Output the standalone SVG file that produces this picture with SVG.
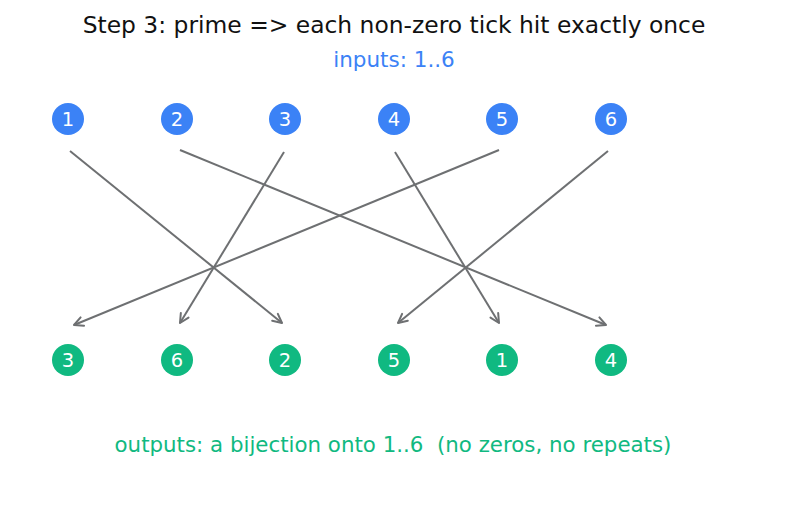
<svg xmlns="http://www.w3.org/2000/svg" width="787" height="510" viewBox="0 0 787 510">
<style>
text{font-family:"DejaVu Sans",sans-serif}
.in circle{fill:#3b82f6}
.out circle{fill:#10b981}
.lbl{fill:#fff;font-size:19.5px;text-anchor:middle}
.e{stroke:#6e7072;stroke-width:2;fill:none;marker-end:url(#ah)}
</style>
<defs>
<marker id="ah" markerUnits="userSpaceOnUse" viewBox="0 0 12 12" refX="11" refY="6" markerWidth="12" markerHeight="12" orient="auto">
<path d="M2,1.5 L11,6 L2,10.5" fill="none" stroke="#6e7072" stroke-width="2" stroke-linecap="round" stroke-linejoin="round"/>
</marker>
</defs>
<rect width="787" height="510" fill="#fff"/>
<text x="394" y="33" font-size="23.4" text-anchor="middle" fill="#111">Step 3: prime =&gt; each non-zero tick hit exactly once</text>
<text x="394" y="67" font-size="21.5" text-anchor="middle" fill="#3b82f6">inputs: 1..6</text>
<text x="393" y="452" font-size="21.35" text-anchor="middle" fill="#10b981" style="white-space:pre">outputs: a bijection onto 1..6  (no zeros, no repeats)</text>
<g id="edges">
<line class="e" x1="70" y1="151" x2="282" y2="323"/>
<line class="e" x1="180" y1="150" x2="606" y2="325"/>
<line class="e" x1="284" y1="152" x2="180" y2="323"/>
<line class="e" x1="395" y1="152" x2="499" y2="323"/>
<line class="e" x1="499" y1="150" x2="74" y2="325"/>
<line class="e" x1="608" y1="151" x2="398" y2="323"/>
</g>
<g id="in1" class="in"><circle cx="68" cy="119" r="16"/><text class="lbl" x="68" y="126">1</text></g>
<g id="in2" class="in"><circle cx="177" cy="119" r="16"/><text class="lbl" x="177" y="126">2</text></g>
<g id="in3" class="in"><circle cx="285" cy="119" r="16"/><text class="lbl" x="285" y="126">3</text></g>
<g id="in4" class="in"><circle cx="394" cy="119" r="16"/><text class="lbl" x="394" y="126">4</text></g>
<g id="in5" class="in"><circle cx="502" cy="119" r="16"/><text class="lbl" x="502" y="126">5</text></g>
<g id="in6" class="in"><circle cx="611" cy="119" r="16"/><text class="lbl" x="611" y="126">6</text></g>
<g id="out1" class="out"><circle cx="68" cy="360" r="16"/><text class="lbl" x="68" y="367">3</text></g>
<g id="out2" class="out"><circle cx="177" cy="360" r="16"/><text class="lbl" x="177" y="367">6</text></g>
<g id="out3" class="out"><circle cx="285" cy="360" r="16"/><text class="lbl" x="285" y="367">2</text></g>
<g id="out4" class="out"><circle cx="394" cy="360" r="16"/><text class="lbl" x="394" y="367">5</text></g>
<g id="out5" class="out"><circle cx="502" cy="360" r="16"/><text class="lbl" x="502" y="367">1</text></g>
<g id="out6" class="out"><circle cx="611" cy="360" r="16"/><text class="lbl" x="611" y="367">4</text></g>
</svg>
